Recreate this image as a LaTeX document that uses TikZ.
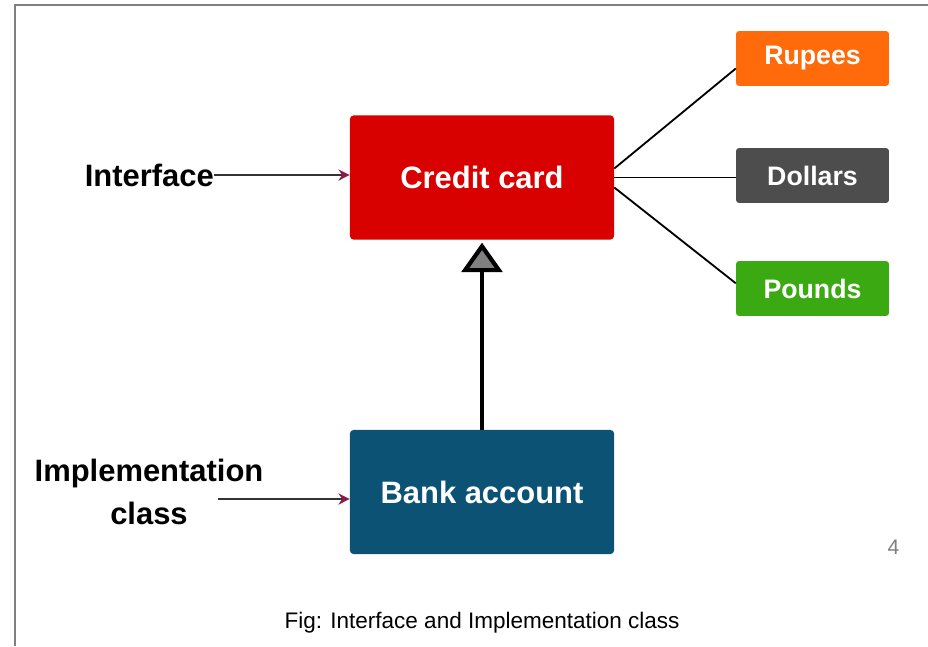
\documentclass[tikz,border=0pt]{standalone}
\usepackage{fontspec}
\setmainfont{Liberation Sans}
\usetikzlibrary{arrows.meta}
\definecolor{ccred}{HTML}{D90000}
\definecolor{bankblue}{HTML}{0B5275}
\definecolor{ruporange}{HTML}{FF6A0A}
\definecolor{dolgray}{HTML}{4D4D4D}
\definecolor{poundgreen}{HTML}{3BAA12}
\definecolor{tipred}{HTML}{8B1A4A}
\tikzset{
  bigbox/.style={rounded corners=2.5pt, minimum width=6.6cm, minimum height=3.1cm, text=white, font=\fontsize{22}{26}\selectfont\bfseries},
  money/.style={rounded corners=2pt, minimum width=3.82cm, minimum height=1.37cm, text=white, font=\fontsize{19}{22}\selectfont\bfseries},
  lbl/.style={font=\fontsize{22}{31}\selectfont\bfseries, align=center},
  pointer/.style={draw=black!80, line width=1.1pt, -{Stealth[length=8pt, width=8pt, color=tipred]}},
  branch/.style={draw=black, line width=1.3pt}
}
\begin{document}
\begin{tikzpicture}[x=0.025cm, y=-0.025cm]
	\useasboundingbox (0,0) rectangle (928,646);
	%\draw[step=20,gray!15] (0,0) grid (928,646); %Hilfsgitter
	\draw[gray, line width=1.2pt] (15,646) -- (15,5) -- (928,5);
	\node[bigbox, fill=ccred] (credit) at (482,177.5) {Credit card};
	\node[bigbox, fill=bankblue] (bank) at (482,492) {Bank account};
	\node[money, fill=ruporange] (rupees) at (812.5,58.5) {Rupees};
	\node[money, fill=dolgray] (dollars) at (812.5,175.5) {Dollars};
	\node[money, fill=poundgreen] (pounds) at (812.5,288.5) {Pounds};
	\node[lbl, anchor=east, inner sep=0pt] (iface) at (214,175) {Interface};
	\node[lbl, inner sep=0pt] (impl) at (149,492) {Implementation\\class};
	\coordinate (implend) at (218,499);
	\draw[branch] (credit.east) ++(0,-9) coordinate (c1) (c1) -- ([yshift=-0.25cm]rupees.west);
	\draw[branch] (credit.east) -- (credit.east -| dollars.west);
	\draw[branch] (credit.east) ++(0,10) coordinate (c3) (c3) -- ([yshift=0.13cm]pounds.west);
	\draw[pointer] (iface.east) -- (iface.east -| credit.west);
	\draw[pointer] (implend) -- (implend -| bank.west);
	\draw[line width=3pt, line join=miter, shorten >=2pt, -{Triangle[length=0.74cm, width=1.02cm, fill=gray]}] (bank.north) -- (credit.south);
	\node[text=gray, font=\fontsize{15}{18}\selectfont] (pagenum) at (893.5,547) {4};
	\node[font=\fontsize{16}{19}\selectfont] (caption) at (482,623) {Fig: Interface and Implementation class};
\end{tikzpicture}
\end{document}
